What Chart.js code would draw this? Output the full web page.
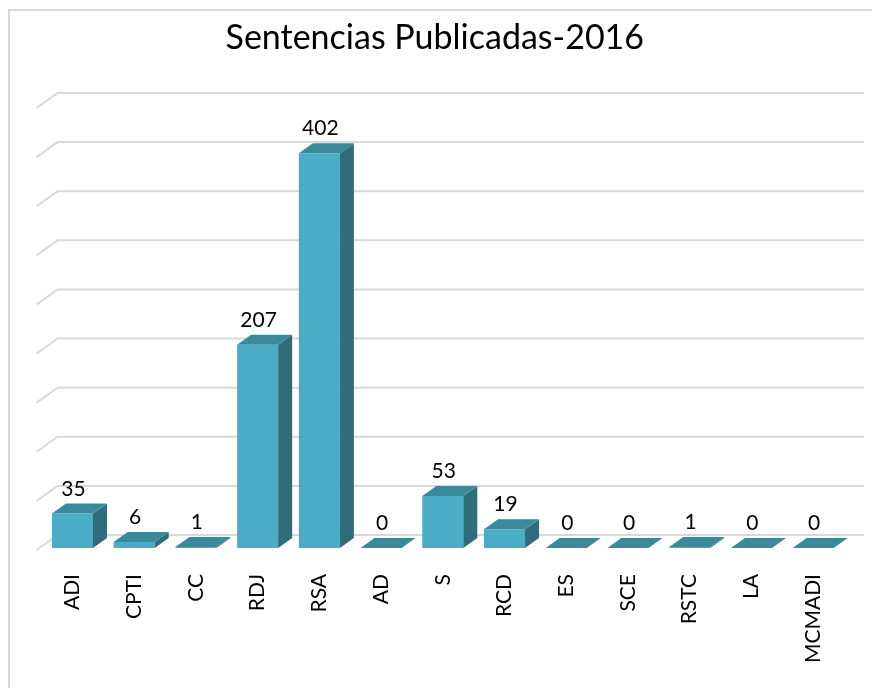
<!DOCTYPE html>
<html><head><meta charset="utf-8">
<script src="https://cdn.jsdelivr.net/npm/chart.js@4/dist/chart.umd.min.js"></script>
<style>html,body{margin:0;padding:0;background:#fff;} canvas{display:block;}</style>
</head><body>
<canvas id="c" width="872" height="688"></canvas>
<script>
const categories = ['ADI','CPTI','CC','RDJ','RSA','AD','S','RCD','ES','SCE','RSTC','LA','MCMADI'];
const values = [35,6,1,207,402,0,53,19,0,0,1,0,0];
const chartTitle = 'Sentencias Publicadas-2016';
const yMin = 0, yMax = 450, yStep = 50;

const FRONT = '#4BACC6', TOP = '#3B899B', SIDE = '#2F6D7C', GRID = '#D9D9D9';
const DX = 14, DY = 10;

const bar3d = {
  id: 'bar3d',
  beforeDraw(chart) {
    const ctx = chart.ctx;
    ctx.save();
    ctx.fillStyle = '#fff';
    ctx.fillRect(0, 0, chart.width, chart.height);
    ctx.strokeStyle = GRID; ctx.lineWidth = 2;
    ctx.beginPath();
    ctx.moveTo(9, chart.height); ctx.lineTo(9, 10); ctx.lineTo(chart.width, 10);
    ctx.stroke();
    ctx.restore();
  },
  beforeDatasetsDraw(chart) {
    const ctx = chart.ctx, ys = chart.scales.y, a = chart.chartArea;
    ctx.save();
    ctx.strokeStyle = GRID; ctx.lineWidth = 2;
    ys.ticks.forEach(t => {
      const yf = ys.getPixelForValue(t.value);
      const yb = yf - 13;
      ctx.beginPath();
      ctx.moveTo(a.left - 5, yf + 2);
      ctx.lineTo(a.left + 16, yb);
      ctx.lineTo(a.right + 20, yb);
      ctx.stroke();
    });
    ctx.restore();
  },
  afterDatasetsDraw(chart) {
    const ctx = chart.ctx;
    const meta = chart.getDatasetMeta(0);
    ctx.save();
    meta.data.forEach((el, i) => {
      const p = el.getProps(['x','y','base','width'], true);
      const l = p.x - p.width/2, r = p.x + p.width/2, top = Math.min(p.y, p.base), bot = Math.max(p.y, p.base);
      ctx.fillStyle = SIDE;
      ctx.beginPath();
      ctx.moveTo(r, top); ctx.lineTo(r + DX, top - DY); ctx.lineTo(r + DX, bot - DY); ctx.lineTo(r, bot);
      ctx.closePath(); ctx.fill();
      ctx.fillStyle = TOP;
      ctx.beginPath();
      ctx.moveTo(l, top); ctx.lineTo(l + DX, top - DY); ctx.lineTo(r + DX, top - DY); ctx.lineTo(r, top);
      ctx.closePath(); ctx.fill();
      ctx.fillStyle = '#000';
      ctx.font = '21px Lato';
      ctx.textAlign = 'center';
      ctx.textBaseline = 'alphabetic';
      ctx.fillText(String(chart.data.datasets[0].data[i]), p.x + 1, top - DY - 8);
    });
    ctx.restore();
  }
};

new Chart(document.getElementById('c'), {
  type: 'bar',
  data: {
    labels: categories,
    datasets: [{
      data: values,
      backgroundColor: FRONT,
      borderWidth: 0,
      categoryPercentage: 1,
      barPercentage: 0.665
    }]
  },
  options: {
    responsive: false,
    devicePixelRatio: 1,
    animation: false,
    layout: { padding: { left: 25.6, right: 28, top: 18, bottom: 0 } },
    plugins: {
      legend: { display: false },
      tooltip: { enabled: false },
      title: {
        display: true,
        text: chartTitle,
        color: '#000',
        font: { family: 'Lato', size: 34, weight: 'normal', lineHeight: 1.2 },
        padding: { top: 0, bottom: 47.2 }
      }
    },
    scales: {
      x: {
        grid: { display: false },
        border: { display: false },
        ticks: {
          color: '#000',
          font: { family: 'Lato', size: 21 },
          minRotation: 90, maxRotation: 90,
          padding: 18,
          autoSkip: false
        },
        afterFit(s) { s.height = 140; }
      },
      y: {
        display: true,
        min: yMin, max: yMax,
        grid: { display: false },
        border: { display: false },
        ticks: { stepSize: yStep, display: false },
        afterFit(s) { s.width = 16; }
      }
    }
  },
  plugins: [bar3d]
});
</script>
</body></html>
